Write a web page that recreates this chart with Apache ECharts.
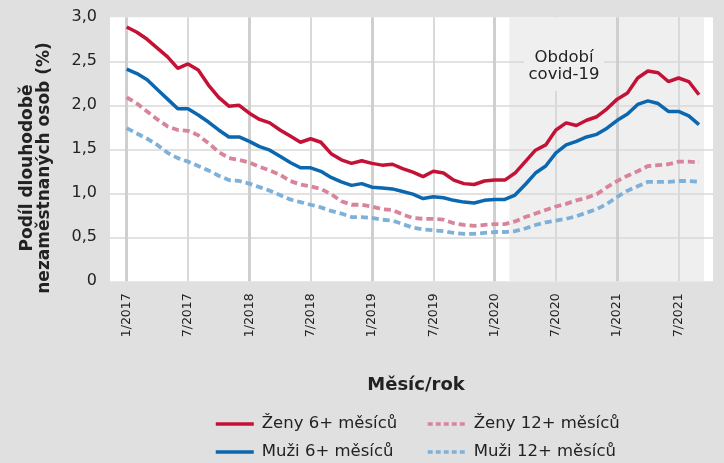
<!DOCTYPE html>
<html>
<head>
<meta charset="utf-8">
<script src="https://cdn.jsdelivr.net/npm/echarts@6/dist/echarts.min.js"></script>
<style>
html,body{margin:0;padding:0;background:#e0e0e0;}
#chart{width:724px;height:463px;}
</style>
</head>
<body>
<div id="chart"></div>
<script>
// Categories: months 1/2017 .. 9/2021
const years = [2017, 2018, 2019, 2020, 2021];
const lastMonth2021 = 9;
const months = [];
years.forEach(y => {
  const maxM = (y === 2021) ? lastMonth2021 : 12;
  for (let m = 1; m <= maxM; m++) months.push(m + '/' + y);
});

const seriesNames = ['Ženy 6+ měsíců', 'Muži 6+ měsíců', 'Ženy 12+ měsíců', 'Muži 12+ měsíců'];

const zeny6 = [2.89,2.83,2.75,2.65,2.55,2.42,2.47,2.40,2.23,2.09,1.99,2.00,
  1.91,1.84,1.80,1.72,1.65,1.58,1.62,1.58,1.45,1.38,1.34,1.37,
  1.34,1.32,1.33,1.28,1.24,1.19,1.25,1.23,1.15,1.11,1.10,1.14,
  1.15,1.15,1.23,1.36,1.49,1.55,1.72,1.80,1.77,1.83,1.87,1.96,
  2.07,2.14,2.31,2.39,2.37,2.27,2.31,2.27,2.12];
const muzi6 = [2.41,2.36,2.29,2.18,2.07,1.96,1.96,1.89,1.81,1.72,1.64,1.64,
  1.59,1.53,1.49,1.42,1.35,1.29,1.29,1.25,1.18,1.13,1.09,1.11,
  1.07,1.06,1.05,1.02,0.99,0.94,0.96,0.95,0.92,0.90,0.89,0.92,
  0.93,0.93,0.98,1.10,1.23,1.31,1.46,1.55,1.59,1.64,1.67,1.74,
  1.83,1.90,2.01,2.05,2.02,1.93,1.93,1.88,1.78];
const zeny12 = [2.09,2.02,1.93,1.84,1.76,1.72,1.71,1.66,1.57,1.47,1.40,1.38,
  1.35,1.30,1.26,1.21,1.14,1.10,1.08,1.05,0.99,0.91,0.87,0.87,
  0.85,0.82,0.81,0.76,0.72,0.71,0.71,0.70,0.66,0.64,0.63,0.64,
  0.65,0.65,0.68,0.73,0.77,0.81,0.85,0.88,0.92,0.95,0.99,1.07,
  1.14,1.20,1.25,1.31,1.32,1.33,1.36,1.36,1.35];
const muzi12 = [1.74,1.68,1.62,1.55,1.46,1.40,1.36,1.31,1.26,1.20,1.15,1.14,
  1.11,1.07,1.03,0.98,0.93,0.90,0.87,0.84,0.80,0.77,0.73,0.73,
  0.72,0.70,0.69,0.65,0.61,0.59,0.58,0.57,0.55,0.54,0.54,0.55,
  0.56,0.56,0.57,0.60,0.64,0.67,0.69,0.71,0.74,0.78,0.82,0.88,
  0.96,1.03,1.08,1.13,1.13,1.13,1.14,1.14,1.13];

// Covid period, in month-index units (0 = 1/2017)
const covidStart = 37.45;
const covidEnd = 56.5;
const covidLabel = 'Období\ncovid-19';

const yTicks = [0, 0.5, 1, 1.5, 2, 2.5, 3];

// Layout
const W = 724;
const plotL = 110, plotR = 713, dataL = 126.7, dataR = 699;
const gTop = 17.3, gBottom = 463 - 281.3;
const step = (dataR - dataL) / (months.length - 1);
const bgMin = -(dataL - plotL) / step;
const bgMax = (months.length - 1) + (plotR - dataR) / step;

const FONT = 'DejaVu Sans';
const TXT = '#222';

const chart = echarts.init(document.getElementById('chart'), null, {renderer: 'canvas'});

const colors = ['#c41236', '#0a67b0', '#d8849a', '#7db1da'];
const dataSets = [zeny6, muzi6, zeny12, muzi12];

const dataSeries = seriesNames.map((n, k) => ({
  name: n,
  type: 'line',
  xAxisIndex: 1,
  yAxisIndex: 1,
  data: dataSets[k],
  symbol: 'none',
  showSymbol: false,
  z: k < 2 ? 4 : 3,
  lineStyle: {
    color: colors[k],
    width: k < 2 ? 3.5 : 3.8,
    type: k < 2 ? 'solid' : [7, 4]
  },
  itemStyle: {color: colors[k]}
}));

const legendText = {fontSize: 16.5, color: TXT, fontFamily: FONT, padding: [0, 0, 0, 3], lineHeight: 20};

const option = {
  animation: false,
  backgroundColor: '#e0e0e0',
  textStyle: {fontFamily: FONT},
  grid: [
    {left: plotL, right: W - plotR, top: gTop, bottom: gBottom, show: true,
     backgroundColor: '#ffffff', borderWidth: 0, z: -2},
    {left: dataL, right: W - dataR, top: gTop, bottom: gBottom, show: false}
  ],
  xAxis: [
    {type: 'value', gridIndex: 0, min: bgMin, max: bgMax, show: false},
    {type: 'category', gridIndex: 1, data: months, boundaryGap: false,
     axisLine: {show: false}, axisTick: {show: false},
     axisLabel: {interval: (i) => i % 6 === 0, rotate: 90, fontSize: 12.5, color: TXT,
       fontFamily: FONT, margin: 12},
     splitLine: {show: true, interval: (i) => i % 12 === 0,
       lineStyle: {color: '#cfcfcf', width: 3}}},
    {type: 'category', gridIndex: 1, data: months, boundaryGap: false,
     axisLine: {show: false}, axisTick: {show: false}, axisLabel: {show: false},
     splitLine: {show: true, interval: (i) => i % 12 === 6,
       lineStyle: {color: '#d9d9d9', width: 2}}}
  ],
  yAxis: [
    {type: 'value', gridIndex: 0, min: yTicks[0], max: yTicks[yTicks.length - 1], interval: 0.5,
     axisLine: {show: false}, axisTick: {show: false},
     axisLabel: {fontSize: 16, color: TXT, fontFamily: FONT, margin: 13,
       formatter: v => v === 0 ? '0' : v.toFixed(1).replace('.', ',')},
     splitLine: {show: true, showMinLine: false, showMaxLine: false,
       lineStyle: {color: '#d9d9d9', width: 1.6}}},
    {type: 'value', gridIndex: 1, min: yTicks[0], max: yTicks[yTicks.length - 1], interval: 0.5, show: false}
  ],
  legend: [
    {data: [seriesNames[0], seriesNames[1]],
     orient: 'vertical', left: 214, top: 414, padding: 0,
     itemWidth: 38, itemHeight: 14, itemGap: 8, textStyle: legendText,
     itemStyle: {opacity: 0}, lineStyle: {width: 3.5}},
    {data: [seriesNames[2], seriesNames[3]],
     orient: 'vertical', left: 426, top: 414, padding: 0,
     itemWidth: 38, itemHeight: 14, itemGap: 8, textStyle: legendText,
     itemStyle: {opacity: 0}, lineStyle: {width: 3.5, type: [5, 3]}}
  ],
  graphic: [
    {type: 'rect', z: 50, shape: {x: 524, y: 18, width: 80, height: 73}, style: {fill: '#efefef'}},
    {type: 'text', x: 564, y: 66.5, z: 51, style: {text: covidLabel, font: '16.5px "' + FONT + '"',
      fill: TXT, align: 'center', verticalAlign: 'middle', lineHeight: 17}},
    {type: 'text', x: 36, y: 168, rotation: Math.PI / 2, z: 50,
     style: {text: 'Podíl dlouhodobě\nnezaměstnaných osob (%)', font: 'bold 17px "' + FONT + '"',
       fill: TXT, align: 'center', verticalAlign: 'middle', lineHeight: 17}},
    {type: 'text', x: 416, y: 385, z: 50,
     style: {text: 'Měsíc/rok', font: 'bold 18px "' + FONT + '"', fill: TXT,
       align: 'center', verticalAlign: 'middle'}}
  ],
  series: [
    {type: 'line', xAxisIndex: 0, yAxisIndex: 0, data: [], z: -1, silent: true,
     markArea: {silent: true, z: -1, itemStyle: {color: '#efefef'},
       data: [[{xAxis: covidStart}, {xAxis: covidEnd}]]}}
  ].concat(dataSeries)
};

chart.setOption(option);
</script>
</body>
</html>
